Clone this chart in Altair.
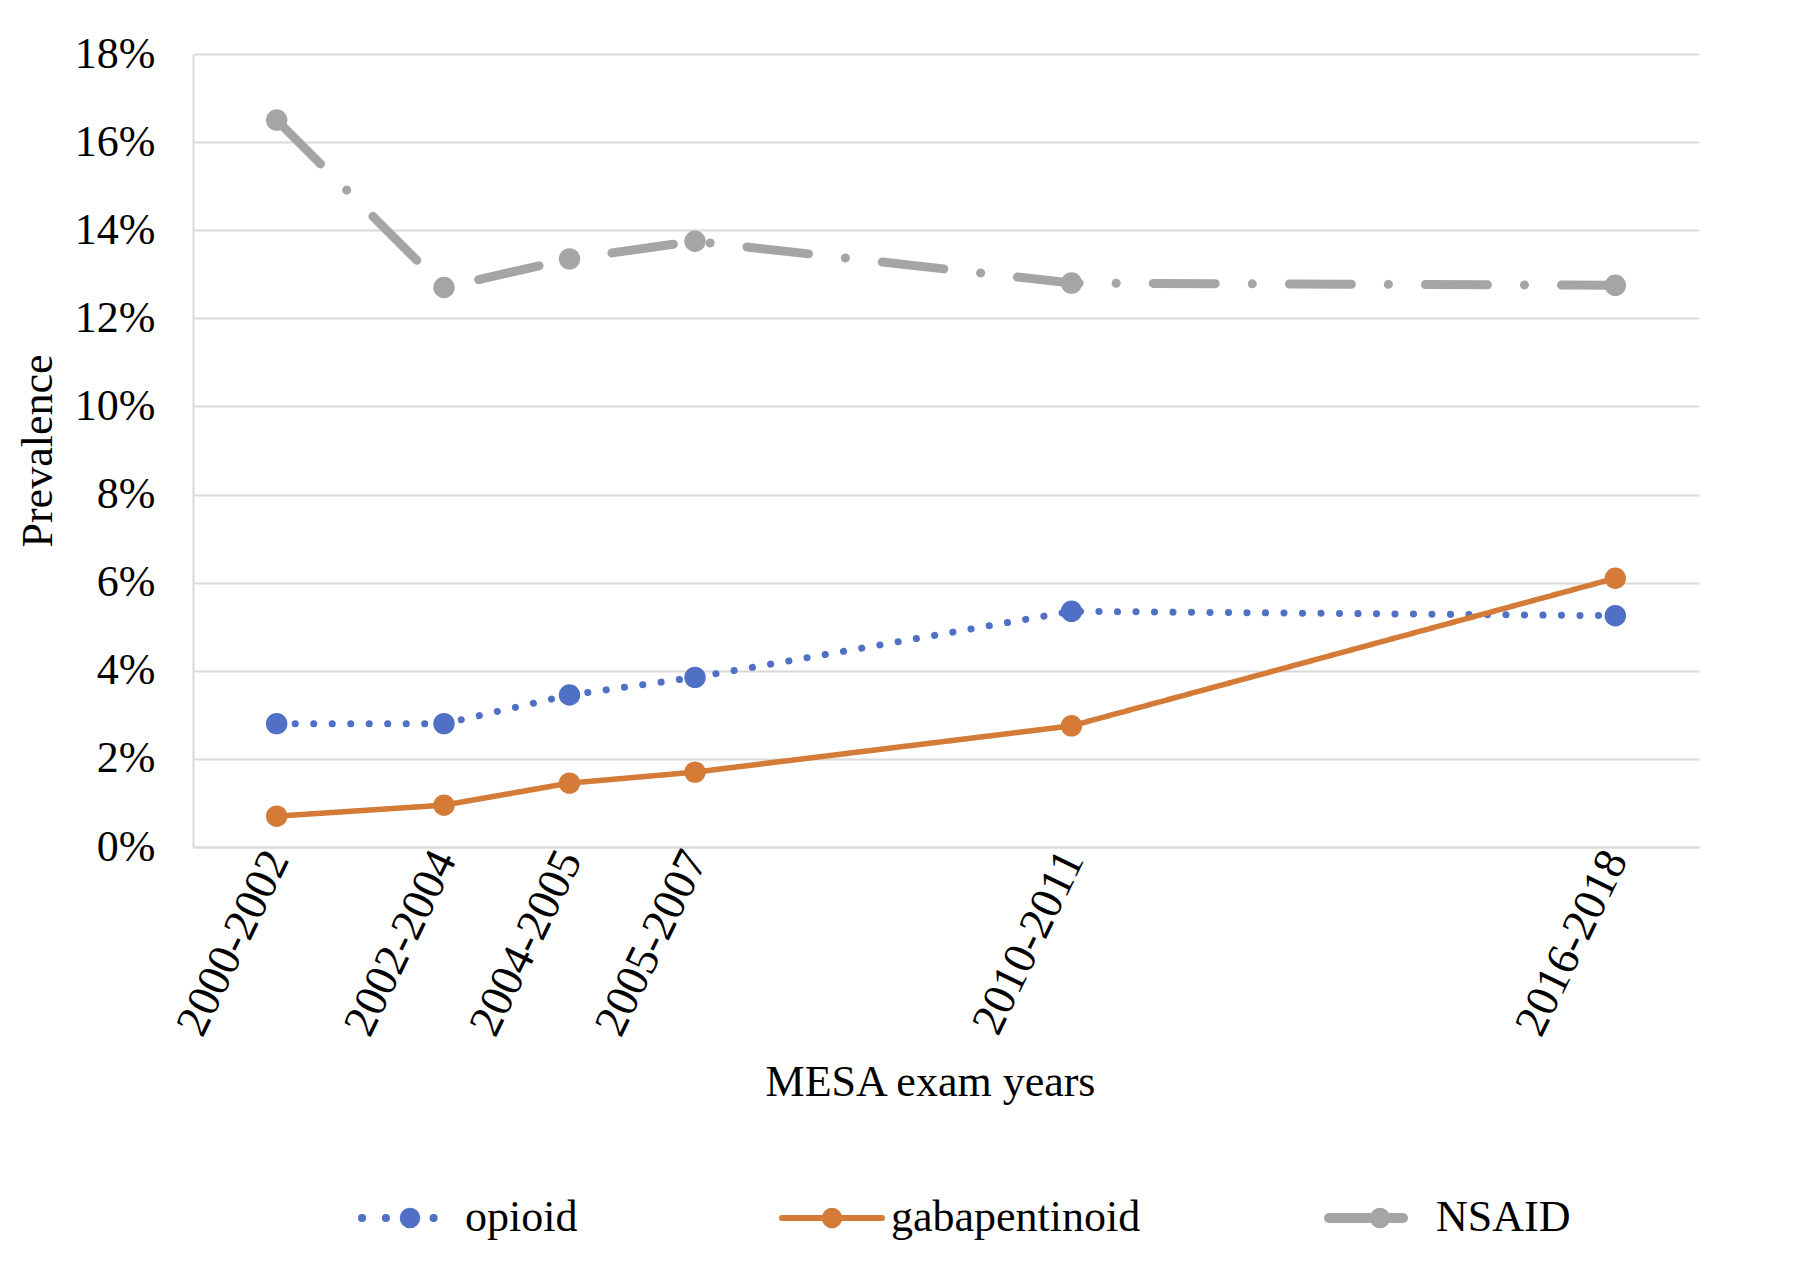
import altair as alt
import pandas as pd

series = ["opioid", "gabapentinoid", "NSAID"]
exam_years = ["2000-2002", "2002-2004", "2004-2005", "2005-2007", "2010-2011", "2016-2018"]
exam_mid = [2001, 2003, 2004.5, 2006, 2010.5, 2017]
opioid = [2.8, 2.8, 3.45, 3.85, 5.35, 5.25]
gabapentinoid = [0.7, 0.95, 1.45, 1.7, 2.75, 6.1]
nsaid = [16.5, 12.7, 13.35, 13.75, 12.8, 12.75]
y_ticks = [0, 2, 4, 6, 8, 10, 12, 14, 16, 18]

colors = ["#4F70C4", "#D47B38", "#A5A5A5"]
widths = [7, 5.5, 9]
dashes = [[0.1, 18.4], [1, 0], [62, 37, 0.1, 37]]

# legend layout (pixels, relative to the plot area's top-left corner)
LEG_Y = 1164
leg_line = [(169, 264), (589, 689), (1136, 1210)]
leg_marker = [217, 639, 1187]
leg_label = [272, 698, 1243]
leg_dash = [[0.1, 23.75], [1, 0], [1, 0]]
leg_width = [8, 6, 10]

rows = []
for name, vals in zip(series, [opioid, gabapentinoid, nsaid]):
    for lab, mid, v in zip(exam_years, exam_mid, vals):
        rows.append({"series": name, "exam": lab, "mid": mid, "value": v})
df = pd.DataFrame(rows)

FONT = "Liberation Serif"
GRID = "#D9D9D9"

label_expr = "''"
for mid, lab in reversed(list(zip(exam_mid, exam_years))):
    label_expr = f"(datum.value == {mid} ? '{lab}' : {label_expr})"

x_enc = alt.X(
    "mid:Q",
    scale=alt.Scale(domain=[2000, 2018], nice=False, zero=False),
    axis=alt.Axis(
        title="MESA exam years",
        values=exam_mid,
        labelExpr=label_expr,
        labelAngle=-64,
        labelAlign="right",
        labelBaseline="middle",
        labelPadding=6,
        labelFont=FONT,
        labelFontSize=46,
        labelColor="black",
        labelLimit=1000,
        labelOverlap=False,
        ticks=False,
        grid=False,
        domainColor=GRID,
        domainWidth=2,
        titleFont=FONT,
        titleFontSize=44,
        titleFontWeight="normal",
        titleColor="black",
        titlePadding=18,
        titleX=737,
    ),
)
y_enc = alt.Y(
    "value:Q",
    scale=alt.Scale(domain=[0, 18], nice=False),
    axis=alt.Axis(
        title="Prevalence",
        values=y_ticks,
        labelExpr="datum.value + '%'",
        labelFont=FONT,
        labelFontSize=44,
        labelColor="black",
        labelPadding=38,
        ticks=False,
        grid=True,
        gridColor=GRID,
        gridWidth=2,
        domainColor=GRID,
        domainWidth=2,
        titleFont=FONT,
        titleFontSize=44,
        titleFontWeight="normal",
        titleColor="black",
        titlePadding=14,
    ),
)

base = alt.Chart(df)

layers = []
for name, c, w, d in zip(series, colors, widths, dashes):
    layers.append(
        base.transform_filter(alt.datum.series == name)
        .mark_line(color=c, strokeWidth=w, strokeDash=d, strokeCap="round")
        .encode(x=x_enc, y=y_enc)
    )

layers.append(
    base.mark_point(filled=True, size=460, opacity=1).encode(
        x=x_enc,
        y=y_enc,
        color=alt.Color("series:N", scale=alt.Scale(domain=series, range=colors), legend=None),
    )
)

# hand-built legend below the plot
for i, name in enumerate(series):
    leg_src = alt.Chart(pd.DataFrame({"series": [name]}))
    x0, x1 = leg_line[i]
    layers.append(
        leg_src.mark_rule(
            color=colors[i], strokeWidth=leg_width[i], strokeDash=leg_dash[i], strokeCap="round"
        ).encode(x=alt.value(x0), x2=alt.value(x1), y=alt.value(LEG_Y))
    )
    layers.append(
        leg_src.mark_point(filled=True, size=420, opacity=1, color=colors[i]).encode(
            x=alt.value(leg_marker[i]), y=alt.value(LEG_Y)
        )
    )
    layers.append(
        leg_src.mark_text(
            align="left", baseline="middle", font=FONT, fontSize=44, color="black"
        ).encode(text="series:N", x=alt.value(leg_label[i]), y=alt.value(LEG_Y))
    )

chart = alt.layer(*layers).properties(
    width=1506,
    height=793,
    autosize=alt.AutoSizeParams(type="none"),
    padding={"left": 185, "top": 46, "right": 93, "bottom": 422},
    background="white",
).configure_view(stroke=None)

chart.save("out.html", embed_options={"renderer": "svg", "actions": False})
